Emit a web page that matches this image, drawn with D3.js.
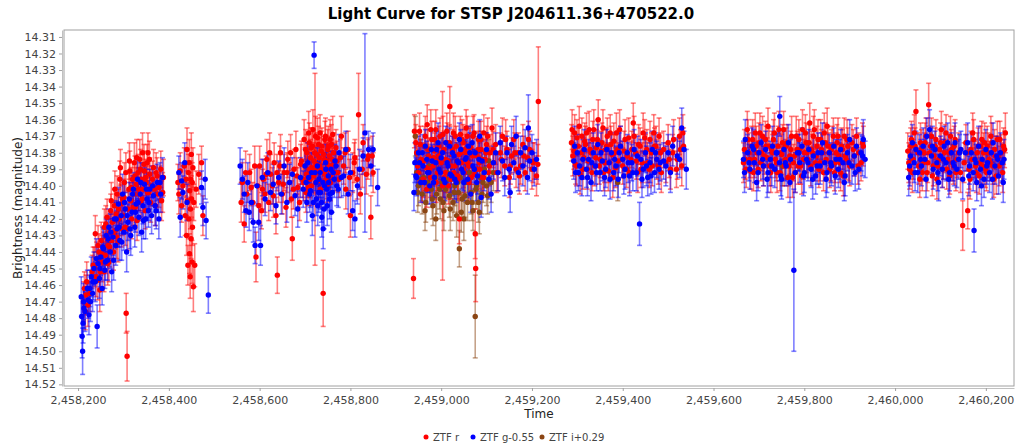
<!DOCTYPE html>
<html>
<head>
<meta charset="utf-8">
<script src="https://cdn.jsdelivr.net/npm/d3@7"></script>
<style>
  body { margin: 0; background: #fff; }
  svg { display: block; font-family: "DejaVu Sans", sans-serif; }
</style>
</head>
<body>
<div id="chart"></div>
<script>
///////////////
//   data    //
///////////////

// julian dates are stored as days after this base
const jdBase = 2458000;

const seriesNames = ["ZTF r", "ZTF g-0.55", "ZTF i+0.29"];
const seriesColors = ["#ff0000", "#0000ff", "#8b4513"];

const xTickValues = [2458200, 2458400, 2458600, 2458800, 2459000, 2459200, 2459400, 2459600, 2459800, 2460000, 2460200];
const yTickValues = [14.31, 14.32, 14.33, 14.34, 14.35, 14.36, 14.37, 14.38, 14.39, 14.40, 14.41,
                     14.42, 14.43, 14.44, 14.45, 14.46, 14.47, 14.48, 14.49, 14.50, 14.51, 14.52];

// [day, magnitude, error]
const ztfR = [
  [212,14.470,.012],[214,14.462,.010],[216,14.476,.011],[219,14.458,.012],[226,14.465,.011],[231,14.452,.010],[236,14.449,.012],[238,14.429,.011],
  [241,14.444,.010],[243,14.457,.012],[246,14.440,.011],[249,14.452,.010],[251,14.433,.011],[253,14.446,.012],[256,14.438,.010],[258,14.425,.011],
  [260,14.442,.011],[262,14.431,.012],[264,14.419,.011],[266,14.436,.010],[268,14.446,.012],[270,14.428,.011],[272,14.415,.010],[274,14.433,.011],
  [276,14.422,.012],[278,14.440,.011],[280,14.412,.010],[282,14.427,.011],[284,14.417,.012],[286,14.405,.011],[288,14.434,.012],[290,14.420,.010],
  [292,14.396,.011],[294,14.411,.012],[296,14.426,.011],[298,14.408,.010],[300,14.418,.011],[302,14.398,.012],[304,14.425,.011],[306,14.477,.012],
  [308,14.503,.015],[310,14.414,.011],[312,14.402,.010],[314,14.391,.012],[316,14.409,.011],[318,14.420,.012],[320,14.396,.010],[322,14.405,.011],
  [324,14.386,.012],[326,14.413,.011],[328,14.399,.010],[330,14.421,.012],[332,14.392,.011],[334,14.405,.010],[336,14.384,.012],[338,14.410,.011],
  [340,14.396,.010],[342,14.380,.012],[344,14.402,.011],[346,14.391,.012],[348,14.415,.011],[350,14.398,.010],[352,14.386,.011],[354,14.380,.012],
  [356,14.404,.011],[358,14.393,.010],[360,14.410,.012],[364,14.396,.011],[368,14.402,.010],[372,14.392,.012],[376,14.405,.011],[380,14.398,.010],
  [384,14.409,.012],[388,14.395,.011],
  [217.4,14.466,.012],[221.8,14.472,.013],[233.2,14.448,.011],[239.6,14.455,.012],[244.1,14.436,.012],[247.9,14.463,.013],[252.3,14.441,.011],[257.2,14.452,.012],
  [261.1,14.423,.011],[265.3,14.447,.013],[269.4,14.437,.012],[273.2,14.409,.011],[277.3,14.429,.012],[281.1,14.402,.011],[285.4,14.431,.013],[289.2,14.414,.012],
  [293.3,14.389,.011],[297.1,14.418,.012],[301.2,14.407,.011],[305.3,14.392,.012],[309.4,14.426,.013],[313.1,14.385,.011],[317.2,14.401,.012],[321.4,14.413,.011],
  [325.3,14.394,.012],[329.1,14.383,.011],[333.2,14.402,.013],[337.4,14.390,.012],[341.3,14.408,.011],[345.2,14.387,.012],[349.1,14.395,.011],[353.3,14.404,.012],
  [357.2,14.384,.011],[361.4,14.400,.012],[366.3,14.389,.011],[370.2,14.412,.012],[374.1,14.394,.011],[378.3,14.401,.012],[382.2,14.390,.011],[386.4,14.404,.012],
  [420,14.398,.011],[422,14.405,.012],[425,14.391,.011],[428,14.412,.010],[431,14.400,.012],[434,14.388,.011],[436,14.418,.012],[438,14.396,.011],
  [439,14.430,.012],[440,14.378,.013],[441,14.409,.011],[442,14.448,.012],[443,14.392,.011],[444,14.420,.012],[445,14.386,.014],[445.5,14.441,.012],
  [446,14.403,.011],[447,14.455,.013],[447.5,14.414,.012],[448,14.396,.011],[449,14.432,.012],[449.5,14.381,.013],[450,14.408,.011],[451,14.446,.013],
  [451.5,14.398,.012],[452,14.425,.011],[453,14.389,.012],[454,14.461,.015],[455,14.410,.011],[457,14.448,.013],[460,14.402,.011],[466,14.393,.012],
  [472,14.386,.010],[475,14.418,.012],
  [562,14.398,.012],[566,14.423,.011],[572,14.405,.012],[578,14.392,.011],[585,14.410,.012],[592,14.443,.015],[596,14.400,.011],[600,14.388,.012],
  [604,14.415,.011],[608,14.396,.012],[612,14.405,.011],[616,14.384,.012],[620,14.410,.011],[624,14.393,.012],[628,14.400,.011],[632,14.386,.012],
  [636,14.418,.011],[639,14.454,.011],[642,14.398,.012],[646,14.380,.011],[650,14.405,.012],[654,14.392,.011],[658,14.413,.012],[662,14.384,.011],
  [666,14.398,.012],[670,14.408,.011],[672,14.432,.013],[676,14.390,.012],[680,14.378,.011],[684,14.401,.012],[688,14.410,.011],[692,14.385,.012],
  [695,14.396,.011],[698,14.372,.012],[700,14.388,.011],[702,14.404,.012],[704,14.380,.011],[706,14.395,.012],[708,14.368,.013],[710,14.390,.012],
  [712,14.383,.011],[714,14.400,.012],[716,14.376,.011],[718,14.392,.012],[720,14.385,.011],[722,14.390,.058],[723,14.370,.012],[724,14.398,.013],
  [726,14.381,.011],[728,14.392,.012],[730,14.375,.011],[732,14.388,.012],[734,14.402,.011],[736,14.379,.012],[738,14.391,.011],[740,14.465,.020],
  [742,14.384,.012],[744,14.372,.011],[746,14.396,.012],[748,14.385,.011],[750,14.378,.012],[752,14.390,.011],[754,14.382,.012],[756,14.398,.011],
  [758,14.375,.012],[760,14.388,.011],[763,14.380,.012],[766,14.392,.011],[770,14.385,.012],[775,14.396,.011],[780,14.370,.012],[785,14.388,.011],
  [790,14.402,.012],[795,14.378,.011],[800,14.418,.013],[805,14.392,.012],[810,14.383,.011],[815,14.396,.012],[818,14.357,.025],[822,14.405,.012],
  [828,14.374,.011],[835,14.393,.012],[840,14.382,.011],[845,14.419,.013],[848,14.382,.012],[850,14.392,.012],
  [559.3,14.410,.012],[569.2,14.392,.013],[581.4,14.401,.011],[589.1,14.388,.012],[598.3,14.412,.011],[606.2,14.402,.012],[614.4,14.393,.011],[622.1,14.380,.012],
  [630.3,14.406,.013],[638.2,14.392,.011],[644.4,14.388,.012],[652.1,14.399,.011],[660.3,14.392,.012],[668.2,14.380,.011],[674.4,14.402,.012],[682.1,14.394,.011],
  [690.3,14.387,.012],[697.2,14.398,.011],[701.4,14.378,.012],[703.1,14.393,.011],[705.3,14.386,.012],[707.2,14.401,.011],[709.4,14.374,.012],[711.1,14.396,.011],
  [713.3,14.377,.012],[715.2,14.389,.011],[717.4,14.366,.012],[719.1,14.394,.011],[721.3,14.380,.012],[725.2,14.387,.011],[727.4,14.371,.012],[729.1,14.397,.011],
  [731.3,14.383,.012],[733.2,14.368,.011],[735.4,14.390,.012],[737.1,14.376,.011],[739.3,14.398,.012],[741.2,14.381,.011],[743.4,14.393,.012],[745.1,14.370,.011],
  [747.3,14.386,.012],[749.2,14.399,.011],[751.4,14.376,.012],[753.1,14.388,.011],[755.3,14.372,.012],[757.2,14.394,.011],[759.4,14.384,.012],[761.1,14.369,.011],
  [765.3,14.386,.012],[768.2,14.377,.011],[772.4,14.392,.012],[778.1,14.383,.011],[788.3,14.380,.012],[798.2,14.395,.011],[808.4,14.386,.012],[826.1,14.390,.011],
  [838.3,14.384,.012],
  [939,14.456,.012],[941,14.367,.010],[946,14.380,.011],[950,14.392,.012],[954,14.375,.011],[958,14.398,.012],[962,14.385,.011],[965,14.370,.012],
  [968,14.402,.011],[971,14.378,.012],[974,14.390,.011],[977,14.366,.012],[980,14.395,.011],[983,14.383,.012],[986,14.372,.011],[989,14.398,.012],
  [992,14.385,.011],[995,14.376,.012],[998,14.392,.011],[1001,14.380,.012],[1003,14.400,.057],[1004,14.369,.011],[1007,14.395,.012],[1010,14.384,.011],
  [1013,14.374,.012],[1016,14.400,.011],[1019,14.352,.012],[1022,14.388,.011],[1025,14.378,.012],[1028,14.392,.011],[1031,14.370,.012],[1034,14.385,.011],
  [1037,14.396,.012],[1040,14.420,.015],[1043,14.380,.011],[1046,14.372,.012],[1049,14.390,.011],[1052,14.378,.012],[1055,14.365,.011],[1058,14.386,.012],
  [1061,14.398,.011],[1064,14.376,.012],[1067,14.388,.011],[1070,14.370,.012],[1073,14.393,.011],[1075,14.429,.015],[1076,14.450,.020],[1079,14.382,.012],
  [1082,14.372,.011],[1085,14.390,.012],[1088,14.378,.011],[1091,14.395,.012],[1094,14.368,.011],[1097,14.384,.012],[1100,14.375,.011],[1104,14.392,.012],
  [1108,14.380,.011],[1112,14.365,.012],[1116,14.386,.011],[1120,14.375,.012],[1125,14.392,.011],[1130,14.380,.012],[1135,14.370,.011],[1140,14.388,.012],
  [1145,14.378,.011],[1150,14.395,.012],[1155,14.382,.011],[1160,14.372,.012],[1165,14.390,.011],[1170,14.380,.012],[1175,14.388,.011],[1180,14.375,.012],
  [1185,14.392,.011],[1190,14.383,.012],[1195,14.378,.011],[1200,14.390,.012],[1205,14.385,.011],[1210,14.394,.012],[1213,14.387,.012],[1214,14.349,.033],
  [944.2,14.374,.011],[948.1,14.388,.012],[952.3,14.367,.011],[956.2,14.384,.012],[960.4,14.396,.011],[963.1,14.376,.012],[967.3,14.389,.011],[969.2,14.363,.012],
  [972.4,14.382,.011],[976.1,14.395,.012],[979.3,14.372,.011],[982.2,14.388,.012],[985.4,14.379,.011],[988.1,14.366,.012],[991.3,14.392,.011],[994.2,14.382,.012],
  [997.4,14.370,.011],[1000.1,14.386,.012],[1006.3,14.378,.011],[1009.2,14.392,.012],[1012.4,14.367,.011],[1015.1,14.385,.012],[1018.3,14.374,.011],[1021.2,14.396,.012],
  [1024.4,14.381,.011],[1027.1,14.368,.012],[1030.3,14.388,.011],[1033.2,14.376,.012],[1036.4,14.394,.011],[1039.1,14.381,.012],[1042.3,14.369,.011],[1045.2,14.386,.012],
  [1048.4,14.374,.011],[1051.1,14.392,.012],[1054.3,14.380,.011],[1057.2,14.370,.012],[1060.4,14.388,.011],[1063.1,14.377,.012],[1066.3,14.395,.011],[1069.2,14.382,.012],
  [1072.4,14.368,.011],[1078.1,14.390,.012],[1081.3,14.378,.011],[1084.2,14.386,.012],[1087.4,14.372,.011],[1090.1,14.384,.012],[1093.3,14.395,.011],[1098.2,14.380,.012],
  [1102.4,14.370,.011],[1106.1,14.388,.012],[1114.3,14.378,.011],[1122.2,14.392,.012],[1132.4,14.384,.011],[1142.1,14.372,.012],[1152.3,14.388,.011],[1162.2,14.380,.012],
  [1172.4,14.394,.011],[1182.1,14.382,.012],[1192.3,14.372,.011],[1202.2,14.386,.012],
  [1287,14.374,.011],[1290,14.382,.012],[1294,14.368,.011],[1298,14.388,.012],[1302,14.376,.011],[1306,14.393,.012],[1310,14.370,.011],[1314,14.383,.012],
  [1318,14.375,.011],[1322,14.390,.012],[1326,14.366,.011],[1330,14.380,.012],[1334,14.372,.011],[1338,14.388,.012],[1342,14.377,.011],[1346,14.360,.012],
  [1350,14.384,.011],[1354,14.374,.012],[1358,14.392,.011],[1362,14.378,.012],[1366,14.370,.011],[1370,14.386,.012],[1374,14.375,.011],[1378,14.395,.012],
  [1382,14.380,.011],[1386,14.368,.012],[1390,14.385,.011],[1395,14.376,.012],[1400,14.388,.011],[1405,14.372,.012],[1410,14.382,.011],[1415,14.392,.012],
  [1420,14.378,.011],[1425,14.370,.012],[1430,14.385,.011],[1435,14.375,.012],[1440,14.390,.011],[1445,14.368,.012],[1450,14.380,.011],[1455,14.386,.012],
  [1460,14.372,.011],[1465,14.388,.012],[1470,14.376,.011],[1475,14.384,.012],[1480,14.370,.011],[1485,14.392,.012],[1490,14.378,.011],[1495,14.386,.012],
  [1500,14.374,.011],[1505,14.390,.012],[1510,14.380,.011],[1520,14.384,.012],[1525,14.370,.011],[1530,14.388,.012],[1534,14.376,.011],
  [1288.4,14.366,.012],[1292.2,14.379,.011],[1296.3,14.387,.012],[1299.1,14.371,.011],[1304.2,14.364,.012],[1308.4,14.380,.011],[1312.1,14.390,.012],[1316.3,14.373,.011],
  [1320.2,14.368,.012],[1324.4,14.385,.011],[1328.1,14.378,.012],[1332.3,14.392,.011],[1336.2,14.366,.012],[1340.4,14.383,.011],[1344.1,14.372,.012],[1348.3,14.388,.011],
  [1352.2,14.379,.012],[1356.4,14.365,.011],[1360.1,14.386,.012],[1364.3,14.376,.011],[1368.2,14.391,.012],[1372.4,14.368,.011],[1376.1,14.381,.012],[1380.3,14.373,.011],
  [1384.2,14.389,.012],[1388.4,14.378,.011],[1393.1,14.366,.012],[1398.3,14.384,.011],[1403.2,14.379,.012],[1408.4,14.390,.011],[1413.1,14.371,.012],[1418.3,14.384,.011],
  [1423.2,14.362,.012],[1428.4,14.380,.011],[1433.1,14.392,.012],[1438.3,14.376,.011],[1443.2,14.386,.012],[1448.4,14.371,.011],[1453.1,14.378,.012],[1458.3,14.390,.011],
  [1463.2,14.380,.012],[1468.4,14.368,.011],[1473.1,14.376,.012],[1478.3,14.388,.011],[1483.2,14.380,.012],[1502.4,14.384,.011],[1512.1,14.372,.012],[1518.3,14.390,.011],
  [1527.2,14.378,.012],[1532.4,14.368,.011],
  [1666,14.386,.012],[1668,14.378,.012],[1672,14.390,.011],[1676,14.372,.012],[1680,14.384,.011],[1684,14.376,.012],[1688,14.392,.011],[1692,14.368,.012],
  [1696,14.380,.011],[1700,14.374,.012],[1704,14.386,.011],[1708,14.370,.012],[1712,14.382,.011],[1716,14.376,.012],[1720,14.364,.011],[1724,14.388,.012],
  [1728,14.378,.011],[1732,14.372,.012],[1736,14.384,.011],[1740,14.392,.012],[1744,14.366,.011],[1748,14.380,.012],[1752,14.374,.011],[1756,14.388,.012],
  [1760,14.376,.011],[1764,14.395,.012],[1768,14.382,.011],[1772,14.370,.012],[1776,14.386,.011],[1780,14.392,.012],[1784,14.378,.011],[1788,14.372,.012],
  [1792,14.388,.011],[1796,14.366,.012],[1800,14.380,.011],[1804,14.374,.012],[1808,14.384,.011],[1812,14.362,.012],[1816,14.378,.011],[1820,14.370,.012],
  [1824,14.386,.011],[1828,14.376,.012],[1832,14.390,.011],[1836,14.372,.012],[1840,14.380,.011],[1844,14.368,.012],[1848,14.384,.011],[1852,14.376,.012],
  [1856,14.390,.011],[1860,14.378,.012],[1864,14.370,.011],[1868,14.386,.012],[1872,14.374,.011],[1876,14.382,.012],[1880,14.392,.011],[1884,14.378,.012],
  [1888,14.370,.011],[1892,14.384,.012],[1896,14.376,.011],[1900,14.388,.012],[1905,14.374,.011],[1910,14.382,.012],[1915,14.370,.011],[1920,14.380,.012],
  [1925,14.386,.011],[1930,14.376,.012],
  [1670.2,14.384,.012],[1674.4,14.366,.011],[1678.1,14.380,.012],[1682.3,14.391,.011],[1686.2,14.372,.012],[1690.4,14.384,.011],[1694.1,14.376,.012],[1698.3,14.390,.011],
  [1702.2,14.368,.012],[1706.4,14.380,.011],[1710.1,14.388,.012],[1714.3,14.372,.011],[1718.2,14.383,.012],[1722.4,14.376,.011],[1726.1,14.392,.012],[1730.3,14.380,.011],
  [1734.2,14.368,.012],[1738.4,14.386,.011],[1742.1,14.376,.012],[1746.3,14.392,.011],[1750.2,14.381,.012],[1754.4,14.366,.011],[1758.1,14.384,.012],[1762.3,14.374,.011],
  [1766.2,14.388,.012],[1770.4,14.378,.011],[1774.1,14.395,.012],[1778.3,14.382,.011],[1782.2,14.370,.012],[1786.4,14.388,.011],[1790.1,14.378,.012],[1794.3,14.394,.011],
  [1798.2,14.384,.012],[1802.4,14.368,.011],[1806.1,14.380,.012],[1810.3,14.374,.011],[1814.2,14.388,.012],[1818.4,14.380,.011],[1822.1,14.366,.012],[1826.3,14.382,.011],
  [1830.2,14.372,.012],[1834.4,14.386,.011],[1838.1,14.378,.012],[1842.3,14.392,.011],[1846.2,14.374,.012],[1850.4,14.364,.011],[1854.1,14.380,.012],[1858.3,14.386,.011],
  [1862.2,14.376,.012],[1866.4,14.392,.011],[1870.1,14.380,.012],[1874.3,14.370,.011],[1878.2,14.386,.012],[1882.4,14.376,.011],[1886.1,14.394,.012],[1890.3,14.382,.011],
  [1894.2,14.372,.012],[1898.4,14.386,.011],[1908.1,14.378,.012],[1918.3,14.388,.011],[1928.2,14.374,.012],
  [2028,14.379,.011],[2032,14.390,.012],[2036,14.372,.011],[2040,14.384,.012],[2044,14.376,.011],[2046,14.355,.013],[2052,14.388,.011],[2056,14.374,.012],
  [2060,14.392,.011],[2064,14.380,.012],[2068,14.370,.011],[2072,14.386,.012],[2074,14.351,.013],[2078,14.376,.011],[2082,14.394,.012],[2086,14.382,.011],
  [2090,14.372,.012],[2094,14.388,.011],[2098,14.378,.012],[2102,14.366,.011],[2106,14.384,.012],[2110,14.374,.011],[2114,14.390,.012],[2118,14.380,.011],
  [2122,14.370,.012],[2126,14.386,.011],[2130,14.376,.012],[2134,14.392,.011],[2140,14.380,.012],[2149,14.424,.015],[2152,14.386,.012],[2156,14.374,.011],
  [2160,14.415,.011],[2163,14.390,.012],[2167,14.378,.011],[2171,14.368,.012],[2175,14.384,.011],[2179,14.392,.012],[2183,14.376,.011],[2187,14.386,.012],
  [2191,14.372,.011],[2195,14.380,.012],[2199,14.390,.011],[2203,14.376,.012],[2207,14.384,.011],[2211,14.370,.012],[2215,14.388,.011],[2219,14.378,.012],
  [2223,14.394,.011],[2227,14.382,.012],[2231,14.372,.011],[2235,14.386,.012],[2239,14.376,.011],[2243,14.368,.012],
  [2030.2,14.386,.012],[2034.4,14.376,.011],[2038.1,14.392,.012],[2042.3,14.368,.011],[2050.2,14.380,.012],[2054.4,14.396,.011],[2058.1,14.378,.012],[2062.3,14.386,.011],
  [2066.2,14.374,.012],[2070.4,14.392,.011],[2076.1,14.380,.012],[2080.3,14.370,.011],[2084.2,14.388,.012],[2088.4,14.376,.011],[2092.1,14.396,.012],[2096.3,14.384,.011],
  [2100.2,14.374,.012],[2104.4,14.390,.011],[2108.1,14.380,.012],[2112.3,14.368,.011],[2116.2,14.384,.012],[2120.4,14.394,.011],[2124.1,14.378,.012],[2128.3,14.388,.011],
  [2132.2,14.372,.012],[2136.4,14.384,.011],[2144.1,14.392,.012],[2158.3,14.380,.011],[2165.2,14.396,.012],[2169.4,14.384,.011],[2173.1,14.372,.012],[2177.3,14.388,.011],
  [2181.2,14.380,.012],[2185.4,14.394,.011],[2189.1,14.376,.012],[2193.3,14.388,.011],[2197.2,14.374,.012],[2201.4,14.392,.011],[2205.1,14.380,.012],[2209.3,14.386,.011],
  [2213.2,14.374,.012],[2217.4,14.396,.011],[2221.1,14.382,.012],[2225.3,14.372,.011],[2229.2,14.388,.012],[2233.4,14.380,.011],[2237.1,14.392,.012],[2241.3,14.378,.011]
];

const ztfG = [
  [207,14.467,.012],[208,14.479,.011],[209,14.491,.013],[210,14.500,.014],[211,14.483,.012],[212,14.470,.011],[213,14.474,.012],[222,14.469,.011],
  [224,14.478,.012],[226,14.462,.011],[229,14.455,.012],[232,14.465,.011],[235,14.450,.010],[238,14.458,.012],[242,14.485,.013],[244,14.447,.011],
  [247,14.456,.012],[250,14.443,.011],[253,14.462,.010],[256,14.438,.012],[259,14.451,.011],[262,14.430,.010],[265,14.445,.012],[268,14.425,.011],
  [271,14.440,.010],[274,14.452,.012],[277,14.431,.011],[280,14.420,.010],[283,14.436,.012],[286,14.426,.011],[289,14.411,.010],[292,14.433,.012],
  [295,14.418,.011],[298,14.405,.012],[301,14.428,.011],[304,14.414,.010],[307,14.440,.012],[310,14.422,.011],[313,14.408,.010],[316,14.430,.012],
  [319,14.416,.011],[322,14.402,.010],[325,14.425,.012],[328,14.411,.011],[331,14.396,.012],[334,14.419,.011],[337,14.405,.010],[340,14.428,.012],
  [343,14.412,.011],[346,14.399,.010],[349,14.420,.012],[352,14.408,.011],[355,14.415,.010],[358,14.402,.012],[362,14.418,.011],[366,14.406,.010],
  [370,14.412,.012],[374,14.398,.011],[378,14.420,.012],[382,14.405,.011],[386,14.395,.012],
  [215.3,14.476,.012],[220.4,14.462,.011],[227.2,14.470,.012],[233.1,14.458,.011],[240.3,14.444,.012],[248.2,14.450,.011],[254.4,14.437,.012],[260.1,14.446,.011],
  [266.3,14.432,.012],[272.2,14.428,.011],[278.4,14.445,.012],[284.1,14.420,.011],[290.3,14.425,.012],[296.2,14.434,.011],[302.4,14.410,.012],[308.1,14.418,.011],
  [314.3,14.426,.012],[320.2,14.405,.011],[326.4,14.416,.012],[332.1,14.410,.011],[338.3,14.398,.012],[344.2,14.421,.011],[350.4,14.402,.012],[356.1,14.410,.011],
  [364.3,14.400,.012],[372.2,14.415,.011],[380.4,14.398,.012],
  [422,14.392,.010],[425,14.419,.012],[428,14.397,.011],[431,14.404,.010],[435,14.386,.012],[440,14.410,.011],[472,14.401,.010],[475,14.413,.011],
  [480,14.396,.012],[482,14.421,.011],[487,14.466,.011],
  [557,14.388,.011],[562,14.396,.012],[566,14.405,.011],[570,14.415,.010],[574,14.398,.012],[577,14.416,.011],[582,14.410,.010],[586,14.422,.012],
  [590,14.436,.011],[594,14.400,.012],[598,14.422,.011],[602,14.436,.012],[606,14.395,.011],[612,14.408,.010],[618,14.392,.012],[624,14.404,.011],
  [630,14.399,.012],[636,14.412,.011],[642,14.395,.010],[648,14.405,.012],[654,14.388,.011],[660,14.410,.012],[666,14.398,.011],[672,14.393,.010],
  [678,14.406,.012],[684,14.414,.011],[690,14.395,.012],[696,14.402,.011],[700,14.388,.010],[704,14.410,.012],[708,14.395,.011],[712,14.403,.010],
  [716,14.418,.012],[720,14.321,.008],[722,14.392,.011],[725,14.408,.010],[728,14.412,.012],[731,14.396,.011],[734,14.404,.010],[737,14.419,.012],
  [740,14.426,.012],[743,14.400,.011],[746,14.390,.010],[749,14.412,.012],[752,14.398,.011],[755,14.405,.010],[758,14.416,.012],[762,14.392,.011],
  [766,14.385,.010],[770,14.400,.012],[775,14.380,.011],[780,14.395,.012],[790,14.378,.011],[795,14.405,.012],[800,14.392,.011],[805,14.415,.012],
  [810,14.420,.011],[820,14.390,.012],[828,14.382,.011],[832,14.368,.060],[840,14.378,.011],[850,14.378,.010],[860,14.401,.011],
  [702.3,14.398,.011],[706.1,14.386,.012],[710.4,14.405,.011],[714.2,14.392,.012],[718.3,14.410,.011],[724.1,14.398,.012],[727.4,14.388,.011],[730.2,14.404,.012],
  [733.3,14.392,.011],[736.1,14.410,.012],[739.4,14.398,.011],[742.2,14.414,.012],[745.3,14.386,.011],[748.1,14.402,.012],[751.4,14.394,.011],[754.2,14.408,.012],
  [757.3,14.390,.011],[760.1,14.404,.012],[764.4,14.396,.011],[768.2,14.388,.012],[773.3,14.402,.011],[785.1,14.394,.012],[815.4,14.400,.011],[845.2,14.388,.012],
  [940,14.404,.011],[942,14.386,.012],[946,14.395,.011],[950,14.380,.010],[955,14.398,.012],[960,14.388,.011],[965,14.376,.010],[970,14.392,.012],
  [975,14.400,.011],[980,14.385,.010],[985,14.395,.012],[990,14.378,.011],[995,14.390,.010],[1000,14.383,.012],[1005,14.396,.011],[1010,14.374,.010],
  [1015,14.388,.012],[1020,14.393,.011],[1025,14.380,.010],[1030,14.396,.012],[1035,14.385,.011],[1040,14.372,.010],[1045,14.390,.012],[1050,14.398,.011],
  [1055,14.383,.010],[1060,14.376,.012],[1065,14.405,.011],[1070,14.388,.010],[1075,14.380,.012],[1080,14.394,.011],[1085,14.370,.010],[1088,14.407,.012],
  [1090,14.385,.012],[1095,14.392,.011],[1100,14.378,.010],[1105,14.396,.012],[1110,14.405,.011],[1115,14.386,.010],[1120,14.380,.012],[1125,14.392,.011],
  [1130,14.374,.010],[1135,14.385,.012],[1140,14.395,.011],[1145,14.380,.010],[1150,14.390,.012],[1152,14.404,.012],[1155,14.375,.011],[1160,14.386,.010],
  [1165,14.370,.012],[1170,14.392,.011],[1175,14.380,.010],[1180,14.388,.012],[1185,14.377,.011],[1190,14.395,.010],[1192,14.365,.020],[1195,14.385,.012],
  [1200,14.380,.011],[1205,14.390,.010],[1210,14.384,.012],
  [944.3,14.394,.011],[952.1,14.386,.012],[958.4,14.380,.011],[963.2,14.398,.012],[968.3,14.384,.011],[973.1,14.392,.012],[978.4,14.378,.011],[983.2,14.398,.012],
  [988.3,14.386,.011],[993.1,14.374,.012],[998.4,14.392,.011],[1003.2,14.380,.012],[1008.3,14.398,.011],[1013.1,14.386,.012],[1018.4,14.376,.011],[1023.2,14.394,.012],
  [1028.3,14.382,.011],[1033.1,14.398,.012],[1038.4,14.386,.011],[1043.2,14.378,.012],[1048.3,14.392,.011],[1053.1,14.384,.012],[1058.4,14.396,.011],[1063.2,14.380,.012],
  [1068.3,14.374,.011],[1073.1,14.390,.012],[1078.4,14.398,.011],[1083.2,14.384,.012],
  [1292,14.385,.011],[1296,14.392,.012],[1300,14.380,.011],[1305,14.388,.012],[1310,14.395,.011],[1315,14.378,.012],[1320,14.390,.011],[1325,14.384,.012],
  [1330,14.398,.011],[1335,14.380,.012],[1340,14.388,.011],[1345,14.375,.012],[1350,14.392,.011],[1355,14.385,.012],[1360,14.395,.011],[1365,14.378,.012],
  [1370,14.386,.011],[1375,14.380,.012],[1380,14.392,.011],[1385,14.388,.012],[1390,14.396,.011],[1395,14.376,.012],[1400,14.384,.011],[1405,14.390,.012],
  [1410,14.380,.011],[1415,14.394,.012],[1420,14.386,.011],[1425,14.378,.012],[1430,14.392,.011],[1437,14.423,.013],[1440,14.384,.012],[1445,14.390,.011],
  [1450,14.380,.012],[1455,14.395,.011],[1460,14.386,.012],[1465,14.378,.011],[1470,14.392,.012],[1475,14.384,.011],[1480,14.390,.012],[1490,14.385,.011],
  [1495,14.388,.012],[1500,14.380,.011],[1510,14.376,.012],[1520,14.382,.011],[1530,14.365,.012],[1535,14.378,.011],[1540,14.390,.012],
  [1294.1,14.376,.012],[1302.3,14.392,.011],[1312.2,14.384,.012],[1322.4,14.395,.011],[1332.1,14.386,.012],[1342.3,14.392,.011],[1352.2,14.380,.012],[1362.4,14.390,.011],
  [1372.1,14.396,.012],[1382.3,14.384,.011],[1392.2,14.380,.012],[1402.4,14.394,.011],[1412.1,14.386,.012],[1422.3,14.392,.011],[1432.2,14.382,.012],[1442.4,14.396,.011],
  [1452.1,14.388,.012],[1462.3,14.394,.011],[1472.2,14.380,.012],[1482.4,14.386,.011],[1505.1,14.392,.012],[1525.3,14.384,.011],
  [1666,14.384,.011],[1670,14.372,.012],[1675,14.380,.011],[1680,14.390,.012],[1685,14.376,.011],[1690,14.386,.012],[1695,14.398,.011],[1700,14.380,.012],
  [1705,14.374,.011],[1710,14.388,.012],[1715,14.378,.011],[1720,14.392,.012],[1725,14.384,.011],[1730,14.376,.012],[1735,14.390,.011],[1740,14.380,.012],
  [1745,14.386,.011],[1746,14.358,.012],[1750,14.396,.012],[1755,14.378,.011],[1760,14.388,.012],[1765,14.374,.011],[1770,14.384,.012],[1777,14.451,.049],
  [1780,14.392,.012],[1785,14.380,.011],[1790,14.386,.012],[1795,14.376,.011],[1800,14.392,.012],[1805,14.384,.011],[1810,14.378,.012],[1815,14.390,.011],
  [1820,14.382,.012],[1825,14.394,.011],[1830,14.380,.012],[1835,14.388,.011],[1840,14.374,.012],[1845,14.386,.011],[1850,14.392,.012],[1855,14.380,.011],
  [1860,14.388,.012],[1865,14.376,.011],[1870,14.384,.012],[1875,14.390,.011],[1880,14.378,.012],[1885,14.386,.011],[1890,14.394,.012],[1895,14.380,.011],
  [1900,14.372,.012],[1905,14.388,.011],[1910,14.382,.012],[1915,14.376,.011],[1920,14.390,.012],[1925,14.380,.011],[1930,14.372,.012],[1934,14.384,.011],
  [1668.3,14.392,.012],[1678.1,14.386,.011],[1688.4,14.378,.012],[1698.2,14.392,.011],[1708.3,14.384,.012],[1718.1,14.396,.011],[1728.4,14.388,.012],[1738.2,14.380,.011],
  [1748.3,14.394,.012],[1758.1,14.386,.011],[1768.4,14.398,.012],[1788.2,14.380,.011],[1798.3,14.394,.012],[1808.1,14.386,.011],[1818.4,14.396,.012],[1828.2,14.388,.011],
  [1838.3,14.380,.012],[1848.1,14.396,.011],[1858.4,14.386,.012],[1868.2,14.394,.011],[1878.3,14.384,.012],[1888.1,14.398,.011],[1898.4,14.386,.012],[1912.2,14.392,.011],
  [1928.3,14.382,.012],
  [2030,14.395,.011],[2034,14.382,.012],[2038,14.374,.011],[2042,14.386,.012],[2046,14.378,.011],[2050,14.392,.012],[2054,14.380,.011],[2058,14.388,.012],
  [2062,14.376,.011],[2066,14.384,.012],[2070,14.370,.011],[2076,14.366,.012],[2080,14.382,.011],[2084,14.390,.012],[2088,14.378,.011],[2092,14.386,.012],
  [2096,14.398,.011],[2100,14.382,.012],[2104,14.390,.011],[2108,14.376,.012],[2112,14.386,.011],[2116,14.374,.012],[2120,14.392,.011],[2124,14.380,.012],
  [2128,14.386,.011],[2132,14.374,.012],[2136,14.390,.011],[2140,14.384,.012],[2145,14.378,.011],[2149,14.396,.012],[2155,14.380,.011],[2160,14.374,.012],
  [2164,14.388,.011],[2168,14.380,.012],[2172,14.392,.011],[2174,14.427,.013],[2176,14.384,.012],[2180,14.398,.011],[2184,14.376,.012],[2188,14.390,.011],
  [2192,14.384,.012],[2196,14.396,.011],[2200,14.378,.012],[2204,14.386,.011],[2208,14.392,.012],[2212,14.380,.011],[2216,14.374,.012],[2220,14.388,.011],
  [2224,14.382,.012],[2228,14.394,.011],[2232,14.380,.012],[2236,14.386,.011],[2240,14.384,.012],
  [2032.3,14.388,.012],[2044.1,14.392,.011],[2056.4,14.384,.012],[2068.2,14.396,.011],[2082.3,14.376,.012],[2094.1,14.392,.011],[2106.4,14.384,.012],[2118.2,14.396,.011],
  [2130.3,14.388,.012],[2142.1,14.380,.011],[2162.4,14.394,.012],[2178.2,14.386,.011],[2190.3,14.400,.012],[2202.1,14.388,.011],[2214.4,14.396,.012],[2226.2,14.384,.011],
  [2238.3,14.398,.012]
];

const ztfI = [
  [943,14.370,.012],[946,14.392,.011],[950,14.400,.012],[954,14.385,.013],[958,14.405,.012],[962,14.395,.011],[966,14.410,.012],[970,14.398,.013],
  [974,14.388,.012],[978,14.402,.011],[982,14.412,.012],[986,14.395,.013],[990,14.405,.012],[994,14.390,.011],[998,14.408,.012],[1002,14.398,.013],
  [1006,14.415,.012],[1010,14.402,.011],[1014,14.392,.012],[1018,14.406,.013],[1022,14.396,.012],[1026,14.410,.011],[1030,14.400,.012],[1034,14.418,.013],
  [1038,14.404,.012],[1040,14.438,.011],[1042,14.395,.011],[1046,14.408,.012],[1050,14.420,.013],[1054,14.398,.012],[1058,14.410,.011],[1062,14.392,.012],
  [1066,14.404,.013],[1070,14.415,.012],[1075,14.479,.025],[1078,14.400,.011],[1082,14.410,.012],[1086,14.395,.013],[1090,14.405,.012],[1095,14.390,.011],
  [1100,14.400,.012],[1105,14.385,.013],[1110,14.398,.012],[1115,14.392,.011],
  [948.3,14.404,.012],[956.1,14.396,.013],[964.4,14.415,.012],[972.2,14.392,.011],[980.3,14.408,.012],[988.1,14.420,.013],[996.4,14.402,.012],[1004.2,14.410,.011],
  [1012.3,14.396,.012],[1020.1,14.414,.013],[1028.4,14.404,.012],[1036.2,14.398,.011],[1044.3,14.416,.012],[1052.1,14.406,.013],[1060.4,14.396,.012],[1068.2,14.410,.011],
  [1076.3,14.402,.012],[1084.1,14.416,.013],[1092.4,14.398,.012],[1102.2,14.406,.011],
  [1389,14.398,.011],[1752,14.388,.012]
];

///////////////
//  layout   //
///////////////

const chartWidth = 1024;
const chartHeight = 448;
const plotLeft = 64, plotRight = 1014, plotTop = 30, plotBottom = 386;

const xScale = d3.scaleLinear()
  .domain([2458169, 2460262])
  .range([plotLeft, plotRight]);

const yScale = d3.scaleLinear()
  .domain([14.3058, 14.521])
  .range([plotTop, plotBottom]);

const svg = d3.select("#chart").append("svg")
  .attr("width", chartWidth)
  .attr("height", chartHeight);

svg.append("rect")
  .attr("width", "100%")
  .attr("height", "100%")
  .attr("fill", "#ffffff");

// title
svg.append("text")
  .attr("x", 511)
  .attr("y", 19)
  .attr("text-anchor", "middle")
  .attr("font-size", "15px")
  .attr("font-weight", "bold")
  .attr("fill", "#000")
  .text("Light Curve for STSP J204611.36+470522.0");

// plot outline
svg.append("rect")
  .attr("x", plotLeft)
  .attr("y", plotTop)
  .attr("width", plotRight - plotLeft)
  .attr("height", plotBottom - plotTop)
  .attr("fill", "none")
  .attr("stroke", "#a0a0a0")
  .attr("stroke-width", 1);

// axes
const xAxis = svg.append("g")
  .attr("transform", "translate(0," + (plotBottom + 2) + ")")
  .call(d3.axisBottom(xScale).tickValues(xTickValues).tickFormat(d3.format(",")).tickSize(3).tickSizeOuter(0));

const yAxis = svg.append("g")
  .attr("transform", "translate(" + (plotLeft - 2) + ",0)")
  .call(d3.axisLeft(yScale).tickValues(yTickValues).tickFormat(d3.format(".2f")).tickSize(3).tickSizeOuter(0));

[xAxis, yAxis].forEach(function(ax) {
  ax.select(".domain").attr("stroke", "#c0c0c0");
  ax.selectAll(".tick line").attr("stroke", "#a0a0a0");
  ax.selectAll(".tick text")
    .attr("fill", "#444")
    .attr("font-size", "11px")
    .attr("font-family", "DejaVu Sans, sans-serif");
});
xAxis.selectAll(".tick text").attr("dy", "0.9em");

// axis labels
svg.append("text")
  .attr("x", (plotLeft + plotRight) / 2)
  .attr("y", 418)
  .attr("text-anchor", "middle")
  .attr("font-size", "12px")
  .attr("fill", "#222")
  .text("Time");

svg.append("text")
  .attr("transform", "translate(22," + ((plotTop + plotBottom) / 2) + ") rotate(-90)")
  .attr("text-anchor", "middle")
  .attr("font-size", "12px")
  .attr("fill", "#222")
  .text("Brightness (magnitude)");

///////////////
//  points   //
///////////////

const plot = svg.append("g");
const allSeries = [ztfR, ztfG, ztfI];
const drawOrder = [2, 0, 1];
const capHalf = 2.5;

// error bars first, then dots on top
drawOrder.forEach(function(s) {
  const g = plot.append("g")
    .attr("stroke", seriesColors[s])
    .attr("stroke-opacity", 0.5)
    .attr("stroke-width", 1.6);
  allSeries[s].forEach(function(p) {
    const cx = xScale(jdBase + p[0]);
    const y1 = yScale(p[1] - p[2]);
    const y2 = yScale(p[1] + p[2]);
    g.append("line").attr("x1", cx).attr("x2", cx).attr("y1", y1).attr("y2", y2);
    g.append("line").attr("x1", cx - capHalf).attr("x2", cx + capHalf).attr("y1", y1).attr("y2", y1);
    g.append("line").attr("x1", cx - capHalf).attr("x2", cx + capHalf).attr("y1", y2).attr("y2", y2);
  });
});

drawOrder.forEach(function(s) {
  plot.append("g").selectAll("circle")
    .data(allSeries[s])
    .join("circle")
    .attr("cx", d => xScale(jdBase + d[0]))
    .attr("cy", d => yScale(d[1]))
    .attr("r", 2.7)
    .attr("fill", seriesColors[s]);
});

///////////////
//  legend   //
///////////////

const legendX = [426, 473, 542];
const legend = svg.append("g");
seriesNames.forEach(function(name, i) {
  legend.append("circle")
    .attr("cx", legendX[i])
    .attr("cy", 437)
    .attr("r", 2.5)
    .attr("fill", seriesColors[i]);
  legend.append("text")
    .attr("x", legendX[i] + 7)
    .attr("y", 441)
    .attr("font-size", "10px")
    .attr("fill", "#444")
    .text(name);
});
</script>
</body>
</html>
